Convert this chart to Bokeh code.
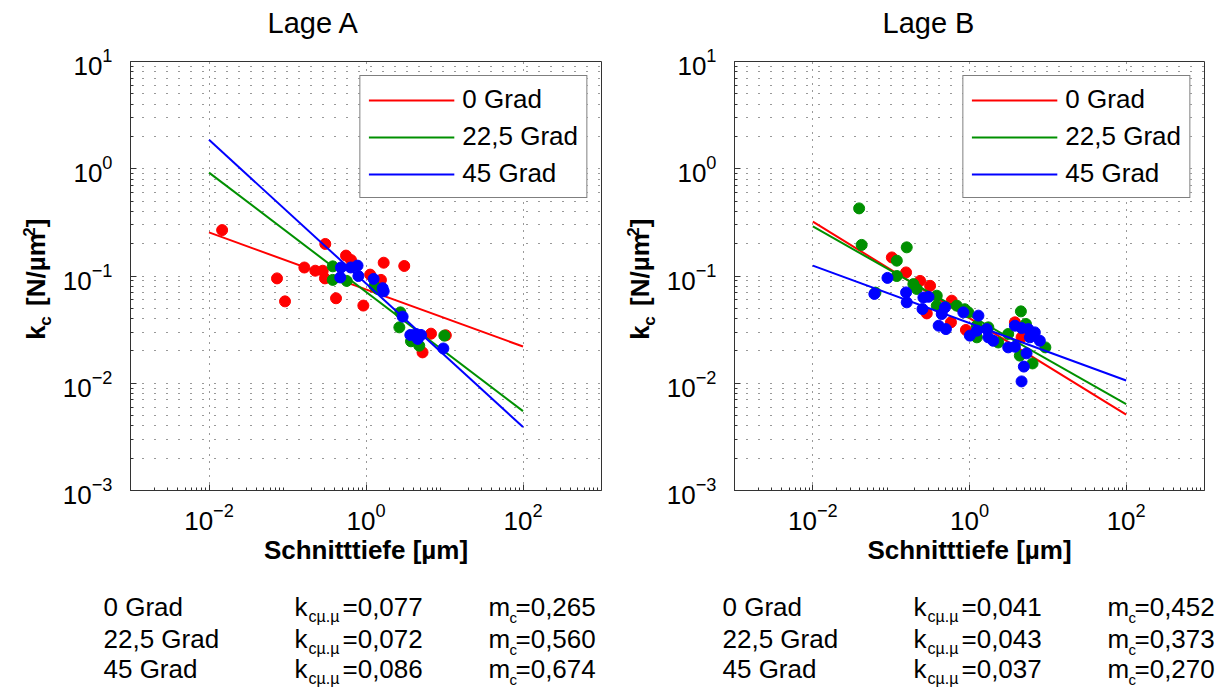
import math
from bokeh.plotting import figure
from bokeh.models import FixedTicker, Legend, LegendItem, Range1d
from bokeh.layouts import row, column
from bokeh.core.properties import value
from bokeh.embed import file_html
from bokeh.resources import INLINE

FONT = "Liberation Sans"
COLORS = ["#ff0000", "#009000", "#0000ff"]
series_names = ["0 Grad", "22,5 Grad", "45 Grad"]

x_major = [1e-2, 1e0, 1e2]
y_major = [1e-3, 1e-2, 1e-1, 1e0, 1e1]
x_label = "Schnitttiefe [µm]"

# ---------- Lage A ----------
a_titel = "Lage A"
a_red_x = [0.0147, 0.0735, 0.093, 0.164, 0.226, 0.281, 0.30, 0.303, 0.415, 0.556, 0.644, 0.925, 1.13, 1.55, 1.68, 3.07, 5.25, 6.73, 10.4]
a_red_y = [0.268, 0.095, 0.058, 0.120, 0.112, 0.112, 0.095, 0.199, 0.062, 0.155, 0.141, 0.053, 0.103, 0.092, 0.133, 0.124, 0.0194, 0.029, 0.028]
a_green_x = [0.377, 0.377, 0.568, 1.28, 1.41, 2.66, 2.74, 3.74, 4.77, 9.95]
a_green_y = [0.123, 0.092, 0.090, 0.081, 0.0757, 0.0332, 0.0458, 0.0246, 0.0224, 0.0278]
a_blue_x = [0.47, 0.48, 0.64, 0.78, 0.80, 1.25, 1.63, 1.68, 2.93, 3.67, 4.34, 4.56, 5.02, 9.67]
a_blue_y = [0.097, 0.120, 0.120, 0.125, 0.100, 0.094, 0.077, 0.072, 0.0418, 0.0282, 0.0288, 0.0259, 0.0282, 0.0211]
fit_x = [0.01, 100]
a_fit_red = [0.255, 0.022]
a_fit_green = [0.92, 0.0055]
a_fit_blue = [1.86, 0.0039]
a_kc = ["0,077", "0,072", "0,086"]
a_mc = ["0,265", "0,560", "0,674"]

# ---------- Lage B ----------
b_titel = "Lage B"
b_red_x = [0.102, 0.155, 0.234, 0.285, 0.314, 0.58, 0.593, 0.90, 3.8, 4.62]
b_red_y = [0.149, 0.108, 0.090, 0.0448, 0.081, 0.037, 0.0589, 0.0314, 0.037, 0.0268]
b_green_x = [0.039, 0.042, 0.063, 0.118, 0.118, 0.158, 0.192, 0.212, 0.382, 0.382, 0.687, 0.87, 0.966, 1.24, 1.24, 1.74, 2.33, 3.12, 4.39, 4.53, 5.25, 6.38, 9.3]
b_green_y = [0.427, 0.195, 0.070, 0.139, 0.100, 0.185, 0.084, 0.0757, 0.0655, 0.0529, 0.0529, 0.049, 0.0458, 0.0344, 0.0268, 0.0332, 0.024, 0.0288, 0.0181, 0.0468, 0.0357, 0.0153, 0.0216]
b_blue_x = [0.061, 0.0897, 0.155, 0.158, 0.251, 0.258, 0.30, 0.404, 0.442, 0.487, 0.50, 0.834, 1.01, 1.24, 1.30, 1.66, 1.74, 2.01, 3.12, 3.80, 3.80, 4.62, 4.62, 4.94, 5.35, 5.62, 5.9, 6.82, 7.9]
b_blue_y = [0.068, 0.096, 0.0703, 0.0568, 0.0492, 0.063, 0.064, 0.0344, 0.0442, 0.051, 0.032, 0.0458, 0.0278, 0.0309, 0.0427, 0.032, 0.0268, 0.0249, 0.0216, 0.0219, 0.0344, 0.0327, 0.0104, 0.0143, 0.019, 0.032, 0.0268, 0.0298, 0.0249]
b_fit_red = [0.321, 0.0051]
b_fit_green = [0.29, 0.0064]
b_fit_blue = [0.125, 0.0106]
b_kc = ["0,041", "0,043", "0,037"]
b_mc = ["0,452", "0,373", "0,270"]

HEAD_H, MAIN_H, TAB_H = 40, 540, 108
TOP_B, BOT_B = 21, 90
MID = 0.35  # distance baseline -> text middle, in em


def minor(decades):
    out = []
    for d in decades:
        for k in range(2, 10):
            out.append(k * 10.0 ** d)
    return out


def text_fig(w, h, top=0, bottom=0):
    f = figure(width=w, height=h, x_range=Range1d(0, w),
               y_range=Range1d(0, h - top - bottom),
               x_axis_location=None, y_axis_location=None,
               output_backend="svg", toolbar_location=None, min_border=0,
               min_border_top=top, min_border_bottom=bottom)
    f.grid.visible = False
    f.outline_line_color = None
    f.background_fill_color = "white"
    f.border_fill_color = "white"
    return f


def put(f, x, y, t, size=26, style="normal", angle=0.0, align="left"):
    f.text(x=[x], y=[y], text=[t], angle=angle, text_font=value(FONT),
           text_font_size=value(f"{size}px"), text_font_style=value(style),
           text_color="black", text_align=value(align),
           text_baseline=value("middle"))


def main_fig(pts, fits, width, bl, br):
    p = figure(width=width, height=MAIN_H, x_axis_type="log", y_axis_type="log",
               x_range=Range1d(1e-3, 1e3), y_range=Range1d(1e-3, 1e1),
               output_backend="svg", toolbar_location=None,
               min_border_left=bl, min_border_right=br,
               min_border_top=TOP_B, min_border_bottom=BOT_B)
    p.background_fill_color = "white"
    p.border_fill_color = "white"
    p.outline_line_color = "#333333"
    p.outline_line_width = 1

    p.xaxis.ticker = FixedTicker(ticks=x_major, minor_ticks=minor(range(-3, 3)))
    p.yaxis.ticker = FixedTicker(ticks=y_major, minor_ticks=minor(range(-3, 1)))
    for ax in (p.xaxis, p.yaxis):
        ax.axis_line_color = "#333333"
        ax.major_tick_line_color = "#333333"
        ax.minor_tick_line_color = "#333333"
        ax.major_tick_in = 6
        ax.major_tick_out = 0
        ax.minor_tick_in = 3
        ax.minor_tick_out = 0
        ax.major_label_text_font = FONT
        ax.major_label_text_font_size = "26px"
        ax.major_label_text_color = "black"
    p.yaxis.major_label_standoff = 18
    p.xaxis.major_label_standoff = 12
    p.xaxis.axis_label = x_label
    p.xaxis.axis_label_text_font = FONT
    p.xaxis.axis_label_text_font_size = "26px"
    p.xaxis.axis_label_text_font_style = "bold"
    p.xaxis.axis_label_text_color = "black"
    p.xaxis.axis_label_standoff = 2

    p.xgrid.grid_line_color = "black"
    p.xgrid.grid_line_alpha = 0.8
    p.xgrid.grid_line_dash = "1 6"
    p.ygrid.grid_line_color = "black"
    p.ygrid.grid_line_alpha = 0.8
    p.ygrid.grid_line_dash = "1 11"
    p.ygrid.minor_grid_line_color = "black"
    p.ygrid.minor_grid_line_alpha = 0.8
    p.ygrid.minor_grid_line_dash = "1 11"

    items = []
    for (xs, ys), fy, col, name in zip(pts, fits, COLORS, series_names):
        p.scatter(xs, ys, size=11, color=col, line_color=col)
        r = p.line(fit_x, fy, line_color=col, line_width=2)
        items.append(LegendItem(label=name, renderers=[r]))

    leg = Legend(items=items, location="top_right", margin=14, padding=8,
                 spacing=6, glyph_width=86, glyph_height=26, label_height=26,
                 label_standoff=8, label_text_font=FONT,
                 label_text_font_size="26px", label_text_color="black",
                 border_line_color="black", border_line_width=1,
                 background_fill_alpha=1.0)
    p.add_layout(leg)
    return p


def half(titel, pts, fits, kc, mc, total_w, yl_w, bl, br, yl_base, tab_dx):
    # header with title (baseline 33 px below page top)
    head = text_fig(total_w, HEAD_H)
    put(head, 267, HEAD_H - 33 + MID * 29, titel, size=29)

    # y-axis label  k_c [N/µm^2], rotated; pieces placed by their centres
    # (along = px above the plot frame bottom, dx = shift of the baseline)
    yl = text_fig(yl_w, MAIN_H, top=TOP_B, bottom=BOT_B)
    for t, along, dx, fs in [("k", 158.0, 0, 26), ("c", 169.5, 6, 17),
                             ("[N/µm", 221.0, 0, 26), ("2", 258.5, -11, 17),
                             ("]", 267.5, 0, 26)]:
        put(yl, yl_base + dx - MID * fs, along, t, size=fs,
            style="bold", angle=math.pi / 2, align="center")

    main = main_fig(pts, fits, total_w - yl_w, bl, br)

    # parameter table; baselines in px below the table top
    tab = text_fig(total_w, TAB_H)
    rows_base = [36, 68, 98]
    for i, yb in enumerate(rows_base):
        for t, xx, dy, fs in [(series_names[i], 103, 0, 26),
                              ("k", 294, 0, 26), ("cµ.µ", 308, 6, 16),
                              ("=" + kc[i], 342, 0, 26),
                              ("m", 488, 0, 26), ("c", 509, 6, 15),
                              ("=" + mc[i], 515, 0, 26)]:
            put(tab, xx + tab_dx, TAB_H - (yb + dy) + MID * fs, t, size=fs)

    return column(head, row(yl, main, spacing=0), tab, spacing=0)


left = half(a_titel, [(a_red_x, a_red_y), (a_green_x, a_green_y), (a_blue_x, a_blue_y)],
            [a_fit_red, a_fit_green, a_fit_blue], a_kc, a_mc,
            615, 56, 74, 14, 45, 0)
right = half(b_titel, [(b_red_x, b_red_y), (b_green_x, b_green_y), (b_blue_x, b_blue_y)],
             [b_fit_red, b_fit_green, b_fit_blue], b_kc, b_mc,
             612, 45, 74, 23, 34, 4)

layout = row(left, right, spacing=0)
open("out.html", "w").write(file_html(layout, INLINE))
